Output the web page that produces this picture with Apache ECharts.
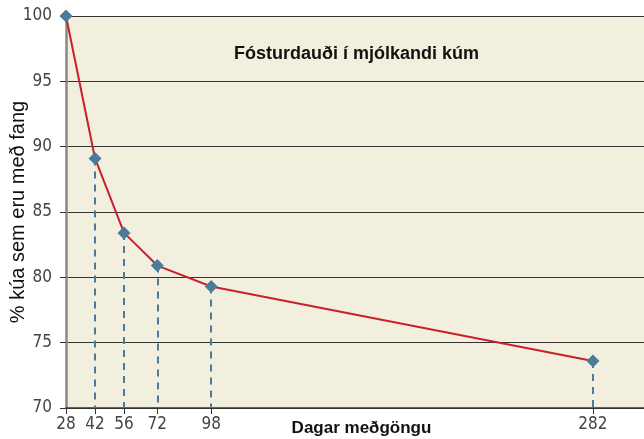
<!DOCTYPE html>
<html>
<head>
<meta charset="utf-8">
<script src="https://cdn.jsdelivr.net/npm/echarts@6/dist/echarts.min.js"></script>
<style>
  html, body { margin: 0; padding: 0; background: #fff; }
  #chart { width: 644px; height: 439px; }
</style>
</head>
<body>
<div id="chart"></div>
<script>
// gögn lesin af myndinni
var days = [28, 42, 56, 72, 98, 282];
var pregnantPct = [100, 89.1, 83.4, 80.9, 79.3, 73.6];
var xTicks = [28, 42, 56, 72, 98, 282];

var narrow = '"Liberation Sans Narrow", "DejaVu Sans Condensed", "Roboto Condensed", sans-serif';
var sans = '"Liberation Sans", Arial, sans-serif';

var points = days.map(function (d, i) { return [d, pregnantPct[i]]; });

// brotalínur niður á x-ás (ekki fyrir fyrsta punkt)
var dropLines = [];
points.slice(1).forEach(function (p) {
  dropLines.push([{ coord: [p[0], p[1]] }, { coord: [p[0], 70] }]);
});

var chart = echarts.init(document.getElementById('chart'));
chart.setOption({
  animation: false,
  title: {
    text: 'Fósturdauði í mjólkandi kúm',
    left: 229, top: 40,
    textStyle: { fontFamily: sans, fontSize: 18, fontWeight: 'bold', color: '#111' }
  },
  grid: {
    left: 66, top: 16, right: 0, bottom: 31,
    containLabel: false, outerBoundsMode: 'none',
    show: true, backgroundColor: '#f2efdf', borderWidth: 0
  },
  xAxis: {
    type: 'value', min: 28, max: 306.6,
    name: 'Dagar meðgöngu', nameLocation: 'middle', nameGap: 20, nameMoveOverlap: false,
    nameTextStyle: { fontFamily: sans, fontSize: 17, fontWeight: 'bold', color: '#111', verticalAlign: 'middle', lineHeight: 17, padding: [0, 0, 0, 13] },
    axisLine: { show: true, lineStyle: { color: '#333', width: 1.5 } },
    axisTick: { show: true, length: 6, customValues: xTicks, lineStyle: { color: '#333' } },
    axisLabel: { customValues: xTicks, fontFamily: narrow, fontSize: 17, color: '#444', margin: 8 },
    splitLine: { show: false }
  },
  yAxis: {
    type: 'value', min: 70, max: 100, interval: 5,
    name: '% kúa sem eru með fang', nameLocation: 'middle', nameGap: 48, nameRotate: 90, nameMoveOverlap: false,
    nameTextStyle: { fontFamily: sans, fontSize: 20, color: '#111', verticalAlign: 'middle', lineHeight: 20 },
    axisLine: { show: true, lineStyle: { color: '#888', width: 2.5 } },
    axisTick: { show: true, length: 6, lineStyle: { color: '#333' } },
    axisLabel: { fontFamily: narrow, fontSize: 17, color: '#444', margin: 14 },
    splitLine: { show: true, lineStyle: { color: '#333', width: 1.2 } }
  },
  series: [{
    type: 'line',
    data: points,
    symbol: 'diamond',
    symbolSize: 13,
    itemStyle: { color: '#4b7b9b' },
    lineStyle: { color: '#c8202c', width: 2 },
    z: 5,
    markLine: {
      silent: true,
      symbol: 'none',
      label: { show: false },
      lineStyle: { color: '#4b7b9b', type: [7, 6], width: 2 },
      data: dropLines,
      z: 3
    }
  }]
});
</script>
</body>
</html>
